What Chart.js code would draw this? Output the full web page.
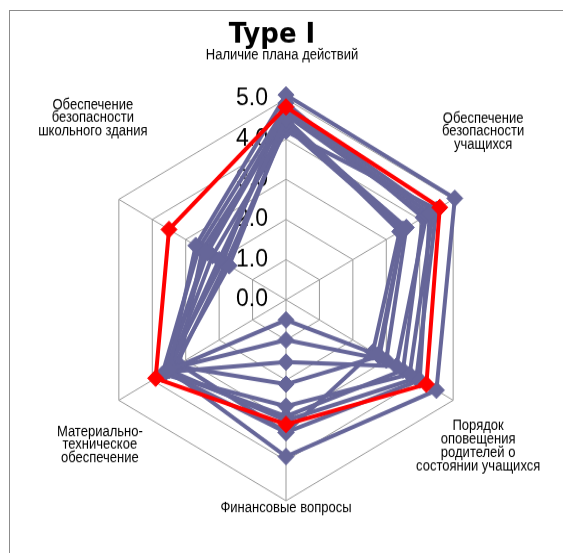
<!DOCTYPE html>
<html>
<head>
<meta charset="utf-8">
<title>Type I</title>
<script src="https://cdn.jsdelivr.net/npm/chart.js@4/dist/chart.umd.min.js"></script>
<style>
  html, body { margin: 0; padding: 0; background: #fff; overflow: hidden; }
  #frame { position: absolute; left: 9px; top: 10px; width: 700px; height: 700px;
           border-left: 1px solid #8c8c8c; border-top: 1px solid #8c8c8c; }
  #wrap { position: absolute; left: 0; top: 0; width: 563px; height: 531px;
          transform: scaleY(1.041); transform-origin: 0 0; }
</style>
</head>
<body>
<div id="frame"></div>
<div id="wrap"><canvas id="radar" width="563" height="531"></canvas></div>
<script>
// axis names, one entry per line of the label
const axisNames = [
  ['Наличие плана действий'],
  ['Обеспечение', 'безопасности', 'учащихся'],
  ['Порядок', 'оповещения', 'родителей о', 'состоянии учащихся'],
  ['Финансовые вопросы'],
  ['Материально-', 'техническое', 'обеспечение'],
  ['Обеспечение', 'безопасности', 'школьного здания']
];
const tickValues = [0, 1, 2, 3, 4, 5];
const tickLabels = ['0.0', '1.0', '2.0', '3.0', '4.0', '5.0'];

// highlighted school
const school = [4.8, 4.6, 4.2, 3.1, 3.9, 3.5];
// the rest of the group
const group01 = [5.1, 5.05, 4.5, 3.9, 3.5, 2.7];
const group02 = [4.7, 4.3, 4.0, 3.3, 3.6, 2.4];
const group03 = [4.5, 3.5, 2.75, 0.5, 3.5, 2.0];
const group04 = [4.4, 3.6, 3.0, 1.0, 3.4, 1.7];
const group05 = [4.6, 4.2, 3.3, 1.55, 3.6, 2.35];
const group06 = [4.3, 3.5, 2.8, 2.1, 3.3, 1.8];
const group07 = [4.8, 4.4, 3.7, 2.65, 3.7, 2.6];
const group08 = [4.2, 4.5, 3.9, 3.0, 3.5, 2.2];
const group09 = [4.9, 4.1, 3.5, 2.9, 3.6, 1.9];
const group10 = [4.5, 3.4, 2.6, 3.3, 3.2, 2.5];
const groupSeries = [group01, group02, group03, group04, group05, group06, group07, group08, group09, group10];

// where each axis name sits relative to the outer vertex: [dx, dy]
const nameOffsets = [[-4, -42], [30, -65], [25, 44], [0, 7], [-19, 43], [-26, -78]];
const nameLineHeight = 12.8;
const nameSqueeze = 0.93;
const FONT = '"Liberation Sans", Arial, sans-serif';

function makeSet(values, color) {
  return {
    data: values,
    borderColor: color,
    backgroundColor: color,
    borderWidth: 4,
    fill: false,
    pointStyle: 'rectRot',
    pointRadius: 8,
    pointBorderWidth: 1,
    pointBorderColor: color,
    pointBackgroundColor: color
  };
}

const datasets = [makeSet(school, '#ff0000')]
  .concat(groupSeries.map(s => makeSet(s, '#666699')));

const radarText = {
  id: 'radarText',
  beforeDatasetsDraw(chart) {
    const ctx = chart.ctx;
    const r = chart.scales.r;
    ctx.save();
    ctx.fillStyle = '#000';

    // value ticks along the top spoke, left of it
    ctx.font = '23px ' + FONT;
    ctx.textAlign = 'right';
    ctx.textBaseline = 'middle';
    tickValues.forEach((v, i) => {
      ctx.fillText(tickLabels[i], r.xCenter - 18, r.yCenter - r.getDistanceFromCenterForValue(v));
    });

    // axis names, slightly condensed
    ctx.font = '14px ' + FONT;
    ctx.textAlign = 'center';
    axisNames.forEach((lines, i) => {
      const p = r.getPointPosition(i, r.drawingArea);
      const cx = p.x + nameOffsets[i][0];
      const cy = p.y + nameOffsets[i][1];
      const top = cy - (lines.length - 1) * nameLineHeight / 2;
      lines.forEach((t, k) => {
        ctx.save();
        ctx.translate(cx, top + k * nameLineHeight);
        ctx.scale(nameSqueeze, 1);
        ctx.fillText(t, 0, 0);
        ctx.restore();
      });
    });

    // chart title
    ctx.font = 'bold 26px "DejaVu Sans", sans-serif';
    ctx.textBaseline = 'alphabetic';
    ctx.fillText('Type I', r.xCenter - 14, 41);
    ctx.restore();
  }
};

new Chart(document.getElementById('radar'), {
  type: 'radar',
  data: { labels: axisNames.map(a => a.join(' ')), datasets: datasets },
  options: {
    responsive: false,
    animation: false,
    devicePixelRatio: 1,
    layout: { padding: { left: 93, right: 84, top: 95, bottom: 50 } },
    elements: { line: { tension: 0 } },
    plugins: { legend: { display: false }, tooltip: { enabled: false } },
    scales: {
      r: {
        min: 0,
        max: 5,
        ticks: { stepSize: 1, display: false },
        grid: { color: '#999', lineWidth: 1 },
        angleLines: { color: '#999', lineWidth: 1 },
        pointLabels: { display: false }
      }
    }
  },
  plugins: [radarText]
});
</script>
</body>
</html>
